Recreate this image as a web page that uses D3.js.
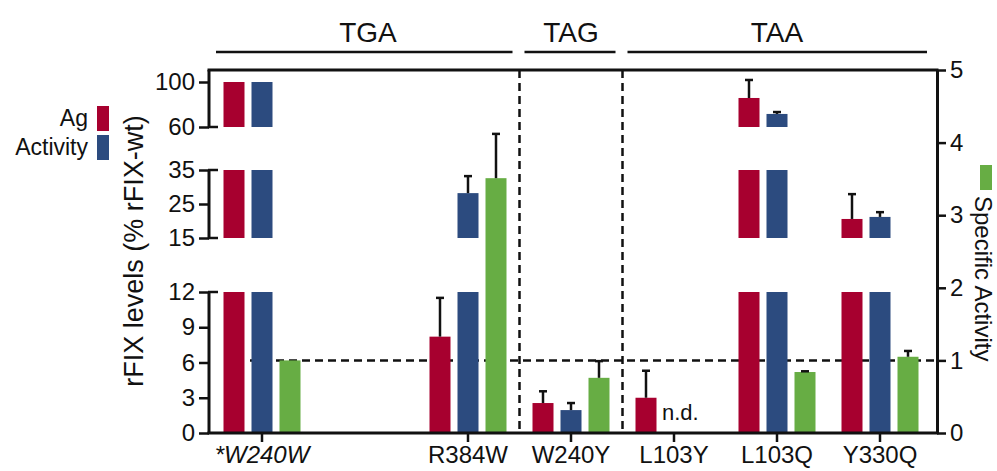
<!DOCTYPE html>
<html>
<head>
<meta charset="utf-8">
<script src="https://cdn.jsdelivr.net/npm/d3@7"></script>
<style>
  body { margin: 0; background: #fff; }
  svg text { font-family: "Liberation Sans", Arial, Helvetica, sans-serif; fill: #111; }
</style>
</head>
<body>
<svg id="canvas" width="997" height="471"></svg>
<script>
// mutations, slot index on the x axis (slot 1 stays empty)
let categories = ['*W240W', 'R384W', 'W240Y', 'L103Y', 'L103Q', 'Y330Q']
let slots = [0, 2, 3, 4, 5, 6]

// Ag and Activity in % rFIX-wt (broken left axis), err = top of error bar
let agValues  = [100, 8.2, 2.55, 3.0, 85.8, 20.6]
let agErr     = [null, 11.5, 3.55, 5.3, 101.8, 27.9]
let actValues = [100, 28.2, 1.95, null, 71.6, 21.2]
let actErr    = [null, 33.2, 2.55, null, 73.3, 22.6]

// specific activity (right axis)
let specValues = [1.0, 3.51, 0.76, null, 0.84, 1.05]
let specErr    = [null, 4.12, 0.99, null, 0.85, 1.13]

let groups = [
    {name: 'TGA', from: 0, to: 2},
    {name: 'TAG', from: 3, to: 3},
    {name: 'TAA', from: 4, to: 6}
]

let bottomTicks = [0, 3, 6, 9, 12]
let midTicks = [15, 25, 35]
let topTicks = [60, 100]
let rightTicks = [0, 1, 2, 3, 4, 5]

let red = '#a7002f'
let blue = '#2c4b7f'
let green = '#67ad44'

let canvas = d3.select('#canvas')

let plotLeft = 209, plotRight = 937, plotTop = 70, plotBottom = 433

let x = d3.scaleLinear().domain([0, 6]).range([262, 880])
let inner = d3.scaleBand().domain(['ag', 'act', 'spec']).range([-42, 42])
    .paddingInner(0.25).paddingOuter(0.125)

// broken left axis: three pieces
let segs = [
    {domain: [0, 12], scale: d3.scaleLinear().domain([0, 12]).range([433, 292]), ticks: bottomTicks},
    {domain: [15, 35], scale: d3.scaleLinear().domain([15, 35]).range([238, 170]), ticks: midTicks},
    {domain: [60, 100], scale: d3.scaleLinear().domain([60, 100]).range([127, 82]), ticks: topTicks}
]
let yRight = d3.scaleLinear().domain([0, 5]).range([plotBottom, plotTop])

let yOf = (v) => {
    let s = segs.find((seg) => v <= seg.domain[1] || seg === segs[2])
    return s.scale(v)
}

// dashed reference line (specific activity = 1)
canvas.append('line')
    .attr('x1', x(0) - 12).attr('x2', plotRight)
    .attr('y1', yRight(1)).attr('y2', yRight(1))
    .attr('stroke', '#111').attr('stroke-width', 2.5)
    .attr('stroke-dasharray', '8,5')

// vertical dividers between codon groups
let dividers = [(x(2) + x(3)) / 2, (x(3) + x(4)) / 2]
dividers.forEach((dx) => {
    canvas.append('line')
        .attr('x1', dx).attr('x2', dx)
        .attr('y1', plotTop).attr('y2', plotBottom)
        .attr('stroke', '#111').attr('stroke-width', 2.5)
        .attr('stroke-dasharray', '8,5')
})

// bars split over the axis pieces
let drawBroken = (values, key, color) => {
    values.forEach((v, i) => {
        if (v == null) return
        segs.forEach((seg) => {
            if (v <= seg.domain[0]) return
            let hi = Math.min(v, seg.domain[1])
            canvas.append('rect')
                .attr('x', x(slots[i]) + inner(key))
                .attr('width', inner.bandwidth())
                .attr('y', seg.scale(hi))
                .attr('height', seg.scale(seg.domain[0]) - seg.scale(hi))
                .attr('fill', color)
        })
    })
}
drawBroken(agValues, 'ag', red)
drawBroken(actValues, 'act', blue)

specValues.forEach((v, i) => {
    if (v == null) return
    canvas.append('rect')
        .attr('x', x(slots[i]) + inner('spec'))
        .attr('width', inner.bandwidth())
        .attr('y', yRight(v))
        .attr('height', yRight(0) - yRight(v))
        .attr('fill', green)
})

// error bars
let drawErr = (values, errs, key, yFn) => {
    values.forEach((v, i) => {
        if (v == null || errs[i] == null) return
        let cx = x(slots[i]) + inner(key) + inner.bandwidth() / 2
        canvas.append('line')
            .attr('x1', cx).attr('x2', cx)
            .attr('y1', yFn(v)).attr('y2', yFn(errs[i]))
            .attr('stroke', '#111').attr('stroke-width', 2.5)
        canvas.append('line')
            .attr('x1', cx - 4).attr('x2', cx + 4)
            .attr('y1', yFn(errs[i])).attr('y2', yFn(errs[i]))
            .attr('stroke', '#111').attr('stroke-width', 2.5)
    })
}
drawErr(agValues, agErr, 'ag', yOf)
drawErr(actValues, actErr, 'act', yOf)
drawErr(specValues, specErr, 'spec', yRight)

// n.d. label
canvas.append('text')
    .attr('x', x(4) - 12).attr('y', 420)
    .attr('font-size', 22)
    .text('n.d.')

// left axis pieces
segs.forEach((seg, k) => {
    let g = canvas.append('g').attr('transform', `translate(${plotLeft},0)`)
        .call(d3.axisLeft(seg.scale).tickValues(seg.ticks).tickSize(10).tickPadding(4))
    g.select('.domain').remove()
    g.selectAll('.tick line').attr('stroke', '#111').attr('stroke-width', 2.5)
    g.selectAll('.tick text').attr('font-size', 24).attr('fill', '#111')
        .style('font-family', '"Liberation Sans", Arial, sans-serif')
    let y0 = seg.scale(seg.domain[0])
    let y1 = k === 2 ? plotTop : seg.scale(seg.domain[1])
    g.append('line').attr('x1', 0).attr('x2', 0).attr('y1', y0).attr('y2', y1)
        .attr('stroke', '#111').attr('stroke-width', 3)
    // caps
    if (k > 0) {
        g.append('line').attr('x1', -1).attr('x2', 9).attr('y1', y0).attr('y2', y0)
            .attr('stroke', '#111').attr('stroke-width', 2.5)
    }
    if (k < 2) {
        g.append('line').attr('x1', -1).attr('x2', 9)
            .attr('y1', seg.scale(seg.domain[1])).attr('y2', seg.scale(seg.domain[1]))
            .attr('stroke', '#111').attr('stroke-width', 2.5)
    }
})

// top frame line and bottom axis line
canvas.append('line').attr('x1', plotLeft - 1.5).attr('x2', plotRight + 1.5)
    .attr('y1', plotTop).attr('y2', plotTop)
    .attr('stroke', '#111').attr('stroke-width', 3)
canvas.append('line').attr('x1', plotLeft - 1.5).attr('x2', plotRight + 1.5)
    .attr('y1', plotBottom).attr('y2', plotBottom)
    .attr('stroke', '#111').attr('stroke-width', 3)

// x ticks and labels
categories.forEach((c, i) => {
    let cx = x(slots[i])
    canvas.append('line').attr('x1', cx).attr('x2', cx)
        .attr('y1', plotBottom).attr('y2', plotBottom + 9)
        .attr('stroke', '#111').attr('stroke-width', 2.5)
    canvas.append('text')
        .attr('x', cx).attr('y', 463)
        .attr('text-anchor', 'middle')
        .attr('font-size', 24)
        .attr('font-style', i === 0 ? 'italic' : 'normal')
        .text(c)
})

// right axis
let gr = canvas.append('g').attr('transform', `translate(${plotRight},0)`)
    .call(d3.axisRight(yRight).tickValues(rightTicks).tickFormat(d3.format('d'))
        .tickSize(9).tickSizeOuter(0).tickPadding(4))
gr.select('.domain').attr('stroke', '#111').attr('stroke-width', 3)
gr.selectAll('.tick line').attr('stroke', '#111').attr('stroke-width', 2.5)
gr.selectAll('.tick text').attr('font-size', 24).attr('fill', '#111')
    .style('font-family', '"Liberation Sans", Arial, sans-serif')

// codon group headers
groups.forEach((gp, k) => {
    let x0 = k === 0 ? plotLeft + 7 : dividers[k - 1] + 5
    let x1 = k === 2 ? plotRight - 10 : dividers[k] - 7
    canvas.append('line').attr('x1', x0).attr('x2', x1)
        .attr('y1', 52).attr('y2', 52)
        .attr('stroke', '#111').attr('stroke-width', 2.5)
    canvas.append('text')
        .attr('x', (x(gp.from) + x(gp.to)) / 2 + (k === 0 ? 3 : 0))
        .attr('y', 42)
        .attr('text-anchor', 'middle')
        .attr('font-size', 28)
        .text(gp.name)
})

// left axis title
canvas.append('text')
    .attr('transform', 'translate(143,251) rotate(-90)')
    .attr('text-anchor', 'middle')
    .attr('font-size', 27)
    .text('rFIX levels (% rFIX-wt)')

// left legend
let legend = [{name: 'Ag', color: red, y: 106}, {name: 'Activity', color: blue, y: 135}]
legend.forEach((l) => {
    canvas.append('rect').attr('x', 97).attr('y', l.y).attr('width', 12).attr('height', 25)
        .attr('fill', l.color)
    canvas.append('text').attr('x', 88).attr('y', l.y + 20)
        .attr('text-anchor', 'end').attr('font-size', 23)
        .text(l.name)
})

// right legend
canvas.append('rect').attr('x', 980).attr('y', 165).attr('width', 12).attr('height', 25)
    .attr('fill', green)
canvas.append('text')
    .attr('transform', 'translate(975,196) rotate(90)')
    .attr('font-size', 24)
    .text('Specific Activity')
</script>
</body>
</html>
